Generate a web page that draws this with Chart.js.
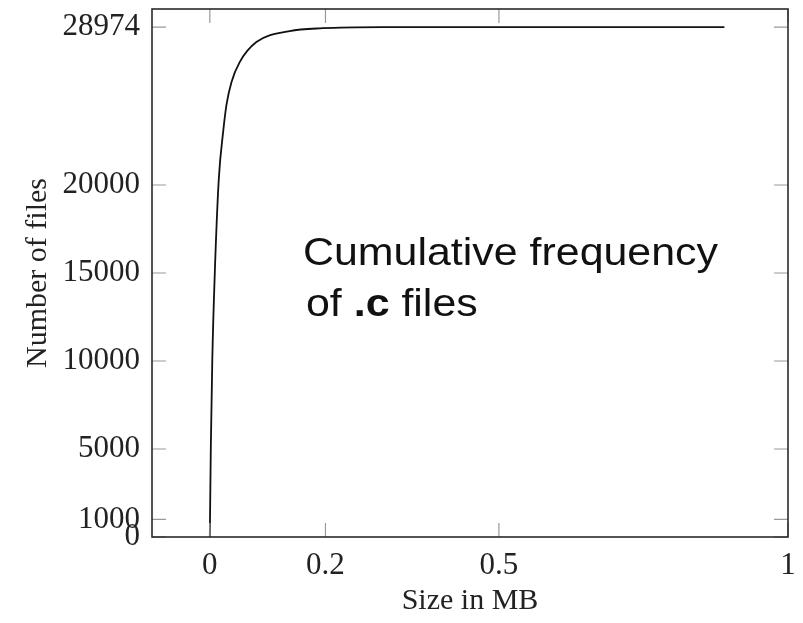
<!DOCTYPE html>
<html>
<head>
<meta charset="utf-8">
<script src="https://cdn.jsdelivr.net/npm/chart.js@4.4.1/dist/chart.umd.min.js"></script>
<style>
  html, body { margin: 0; padding: 0; background: #fff; }
  #wrap { width: 803px; height: 623px; }
</style>
</head>
<body>
<div id="wrap"><canvas id="cumChart"></canvas></div>
<script>
// values
const sizesMB = [0, 0.0017, 0.0043, 0.0086, 0.0155, 0.023, 0.029, 0.0374, 0.0517, 0.0805, 0.138, 0.195, 0.298, 0.5, 0.89];
const fileCounts = [0, 5000, 10090, 15000, 20330, 23000, 24590, 25840, 26980, 28120, 28740, 28910, 28974, 28974, 28974];
const xTicks = [0, 0.2, 0.5, 1];
const yTicks = [0, 1000, 5000, 10000, 15000, 20000, 28974];

document.addEventListener('DOMContentLoaded', function () {
    const ctx = document.getElementById('cumChart').getContext('2d');
    const serif = "'Liberation Serif', 'DejaVu Serif', serif";

    // box around plot + inner tick marks like pgfplots
    const frameAndTicks = {
        id: 'frameAndTicks',
        afterDatasetsDraw(chart) {
            const { ctx, chartArea: a, scales } = chart;
            const len = 14;
            ctx.save();
            ctx.strokeStyle = '#9a9a9a';
            ctx.lineWidth = 1.2;
            ctx.beginPath();
            scales.x.ticks.forEach(t => {
                const px = scales.x.getPixelForValue(t.value);
                ctx.moveTo(px, a.bottom); ctx.lineTo(px, a.bottom - len);
                ctx.moveTo(px, a.top); ctx.lineTo(px, a.top + len);
            });
            scales.y.ticks.forEach(t => {
                const py = scales.y.getPixelForValue(t.value);
                ctx.moveTo(a.left, py); ctx.lineTo(a.left + len, py);
                ctx.moveTo(a.right, py); ctx.lineTo(a.right - len, py);
            });
            ctx.stroke();
            ctx.strokeStyle = '#2a2a2a';
            ctx.lineWidth = 1.6;
            ctx.strokeRect(a.left, a.top, a.right - a.left, a.bottom - a.top);
            ctx.restore();
        }
    };

    // the "Cumulative frequency of .c files" note, squeezed to the reference width
    const annotation = {
        id: 'annotation',
        afterDraw(chart) {
            const { ctx } = chart;
            const sans = "'Liberation Sans', Arial, sans-serif";
            const size = 39;
            ctx.save();
            ctx.fillStyle = '#111';
            ctx.textBaseline = 'alphabetic';
            ctx.textAlign = 'left';
            ctx.font = size + 'px ' + sans;
            const w = ctx.measureText('Cumulative frequency').width;
            const sx = 415 / w;
            ctx.translate(303, 0);
            ctx.scale(sx, 1);
            ctx.fillText('Cumulative frequency', 0, 265);
            let x = 3 / sx;
            ctx.fillText('of ', x, 316);
            x += ctx.measureText('of ').width;
            ctx.font = 'bold ' + size + 'px ' + sans;
            ctx.fillText('.c', x, 316);
            x += ctx.measureText('.c').width;
            ctx.font = size + 'px ' + sans;
            ctx.fillText(' files', x, 316);
            ctx.restore();
        }
    };

    new Chart(ctx, {
        type: 'line',
        data: {
            datasets: [{
                data: sizesMB.map((s, i) => ({ x: s, y: fileCounts[i] })),
                borderColor: '#111',
                borderWidth: 1.8,
                pointRadius: 0,
                fill: false,
                cubicInterpolationMode: 'monotone'
            }]
        },
        options: {
            responsive: true,
            maintainAspectRatio: false,
            animation: false,
            layout: { padding: { top: 9, right: 15, left: 0, bottom: 0 } },
            plugins: { legend: { display: false }, tooltip: { enabled: false } },
            scales: {
                x: {
                    type: 'linear',
                    min: -0.1,
                    max: 1,
                    afterBuildTicks: s => { s.ticks = xTicks.map(v => ({ value: v })); },
                    afterFit: s => { s.height = 86; s.paddingLeft = 0; s.paddingRight = 0; },
                    grid: { display: false, drawTicks: false },
                    border: { display: false },
                    ticks: {
                        autoSkip: false,
                        maxRotation: 0,
                        padding: 10,
                        color: '#222',
                        font: { family: serif, size: 31 },
                        callback: v => String(v)
                    },
                    title: {
                        display: true,
                        text: 'Size in MB',
                        color: '#222',
                        font: { family: serif, size: 30 },
                        padding: { top: 0, bottom: 4 }
                    }
                },
                y: {
                    type: 'linear',
                    min: 0,
                    max: 30000,
                    afterBuildTicks: s => { s.ticks = yTicks.map(v => ({ value: v })); },
                    afterFit: s => { s.width = 152; s.paddingTop = 0; s.paddingBottom = 0; },
                    grid: { display: false, drawTicks: false },
                    border: { display: false },
                    ticks: {
                        autoSkip: false,
                        padding: 12,
                        color: '#222',
                        font: { family: serif, size: 31 },
                        callback: v => String(v)
                    },
                    title: {
                        display: true,
                        text: 'Number of files',
                        color: '#222',
                        font: { family: serif, size: 30 },
                        padding: { top: 20, bottom: 0 }
                    }
                }
            }
        },
        plugins: [frameAndTicks, annotation]
    });
});
</script>
</body>
</html>
